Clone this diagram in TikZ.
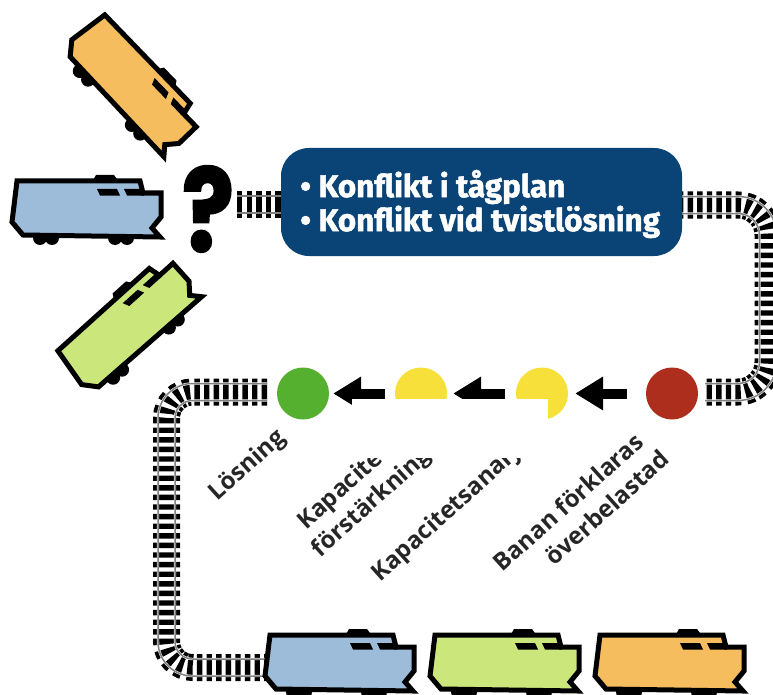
\documentclass[tikz,border=0pt]{standalone}
\usepackage{fontspec}
\setmainfont{Open Sans}
\newfontfamily\boxfont{Fira Sans}[BoldFeatures={FakeBold=1.6}]
\newfontfamily\qfont{Poppins}[BoldFeatures={FakeBold=2}]
\usetikzlibrary{arrows.meta}
\definecolor{trainblue}{HTML}{9DBCDA}
\definecolor{traingreen}{HTML}{CBE67A}
\definecolor{trainorange}{HTML}{F6BD5F}
\definecolor{boxblue}{HTML}{0A4476}
\definecolor{sigred}{HTML}{AE2E1E}
\definecolor{siggreen}{HTML}{55B02F}
\definecolor{sigyellow}{HTML}{F8E03A}
\tikzset{
  pics/train/.style={code={
    \begin{scope}[shift={(-87,-208)}]
      \fill[black] (40,238) circle (7) (52,238) circle (7) (115,238) circle (7) (127,238) circle (7);
      \fill[black] (92,182) -- (96,175) -- (114,175) -- (119,182) -- cycle;
      \draw[fill=#1,line width=5pt,line join=miter] (17,181) -- (140,181) -- (143,193) -- (161,193) -- (161,217) -- (152,228) -- (160,237) -- (23,235) -- (12,222) -- cycle;
      \fill[black] (97,189) -- (117,189) -- (120,195.5) -- (100,195.5) -- cycle;
      \fill[black] (124,189) -- (141,189) -- (144,195.5) -- (127,195.5) -- cycle;
    \end{scope}
  }},
  sleeper/.style={line width=27pt,dash pattern=on 5.4pt off 4.2pt,black},
  railhalo/.style={draw=white,line width=2.4pt},
  railline/.style={draw=black!50,line width=1.5pt},
  signal/.style={circle,minimum size=52pt,inner sep=0pt,draw=none},
  flow/.style={line width=10pt,-{Triangle[length=28pt,width=32pt]}},
  steplabel/.style={font=\bfseries\fontsize{24}{30}\selectfont,text=black!85,rotate=42,align=center,inner sep=0pt},
}
\begin{document}
\begin{tikzpicture}[x=1pt,y=-1pt]
\useasboundingbox (0,0) rectangle (773,695);
\clip (0,0) rectangle (773,695);
\fill[white] (0,0) rectangle (773,695);

\coordinate (stubA) at (237,204.5);
\coordinate (stubB) at (285,204.5);
\coordinate (tA) at (678,205);
\coordinate (tC1) at (768,205);
\coordinate (tC2) at (768,392);
\coordinate (tB) at (705,392);
\coordinate (lA) at (267,392);
\coordinate (lC1) at (166.5,392);
\coordinate (lC2) at (166.5,667.5);
\coordinate (lB) at (275,667.5);

% stub beside the question mark
\draw[sleeper] (stubA) -- (stubB);
\draw[railhalo] (237,196) -- (285,196) (237,213) -- (285,213);
\draw[railline] (237,196) -- (285,196) (237,213) -- (285,213);

% track from the box to the red signal
\draw[sleeper,rounded corners=30pt] (tA) -- (tC1) -- (tC2) -- (tB);
\foreach \sty in {railhalo,railline}{
  \draw[\sty,rounded corners=38.5pt] (678,196.5) -- (776.5,196.5) -- (776.5,400.5) -- (705,400.5);
  \draw[\sty,rounded corners=21.5pt] (678,213.5) -- (759.5,213.5) -- (759.5,383.5) -- (705,383.5);
}

% track from the green signal to the blue train
\draw[sleeper,rounded corners=26pt] (lA) -- (lC1) -- (lC2) -- (lB);
\foreach \sty in {railhalo,railline}{
  \draw[\sty,rounded corners=34.5pt] (267,383.5) -- (158,383.5) -- (158,676) -- (275,676);
  \draw[\sty,rounded corners=17.5pt] (267,400.5) -- (175,400.5) -- (175,659) -- (275,659);
}

\node[name=box,fill=boxblue,rounded corners=28pt,minimum width=401pt,minimum height=108pt,inner sep=0pt] at (481.5,202) {};
\node[name=boxtext,anchor=west,text=white,align=left,inner sep=0pt,font=\boxfont\bfseries\fontsize{31.4}{34}\selectfont] at (300,204) {• Konflikt i tågplan\\• Konflikt vid tvistlösning};

\node[name=qm,font=\qfont\bfseries\fontsize{115}{115}\selectfont,inner sep=0pt,xscale=.84,transform shape] at (208,209) {?};

\pic[rotate=-46] at (134,84) {train=trainorange};
\pic at (87,208) {train=trainblue};
\pic[rotate=42] at (128,324) {train=traingreen};
\pic at (340,662) {train=trainblue};
\pic at (505,662) {train=traingreen};
\pic at (670,662) {train=trainorange};

\node[name=red,signal,fill=sigred] at (672,393.5) {};
\node[name=yellowB,signal,fill=sigyellow] at (542,393.5) {};
\node[name=yellowA,signal,fill=sigyellow] at (421,393.5) {};
\node[name=green,signal,fill=siggreen] at (303,393.5) {};

\draw[flow,shorten <=19pt,shorten >=7pt] (red) -- (yellowB);
\draw[flow,shorten <=11pt,shorten >=6pt] (yellowB) -- (yellowA);
\draw[flow,shorten <=10pt,shorten >=4pt] (yellowA) -- (green);

\node[name=lab1,steplabel] at (248,466) {Lösning};
\node[name=lab2,steplabel] at (362,492) {Kapacitets-\\förstärkning};
\node[name=lab3,steplabel] at (452,509) {Kapacitetsanalys};
\node[name=lab4,steplabel] at (578,513) {Banan förklaras\\\hspace*{50pt}överbelastad};

\fill[white] (352,399) rectangle (548,458);
\end{tikzpicture}
\end{document}
